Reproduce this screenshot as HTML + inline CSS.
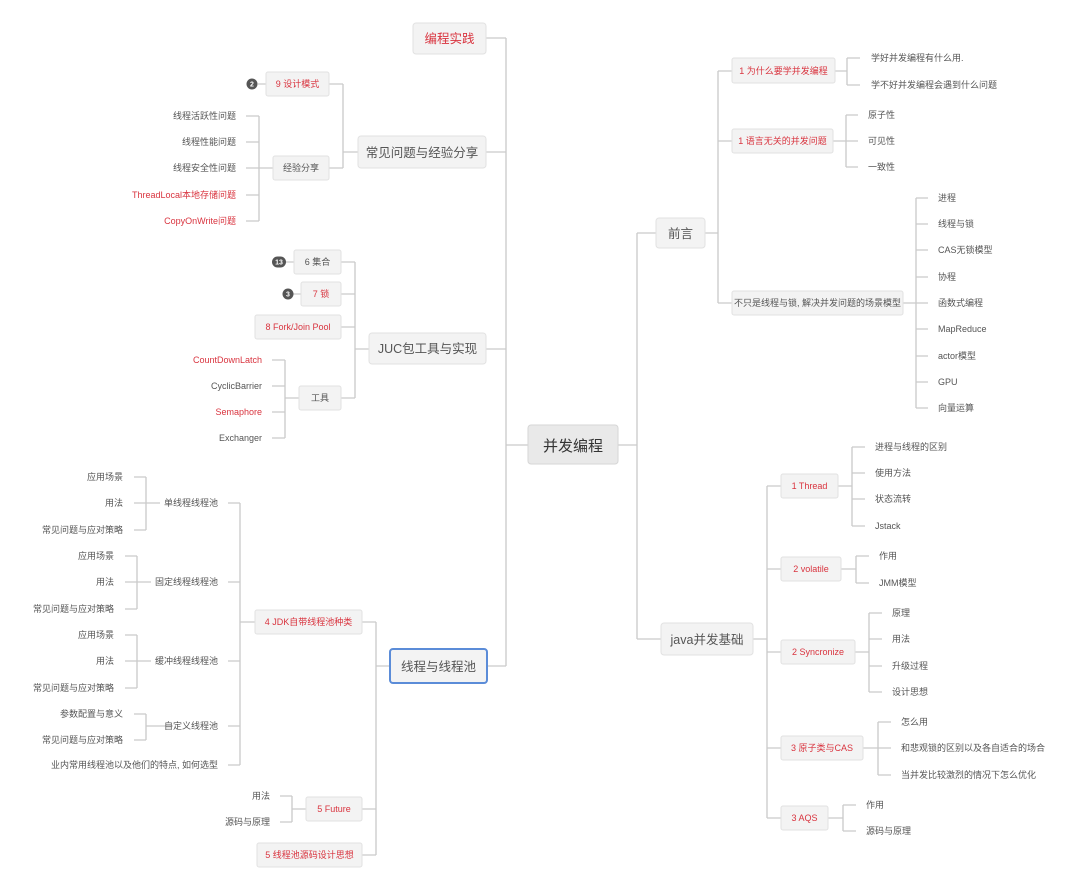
<!DOCTYPE html>
<html><head><meta charset="utf-8">
<style>
html,body{margin:0;padding:0;background:#fff;width:1080px;height:882px;overflow:hidden}
svg{display:block}
text{font-family:"Liberation Sans","Noto Sans CJK SC",sans-serif;fill:#555}
.r{fill:#d9343f}
.s{font-size:9px}
.m{font-size:10px}
.l{font-size:12.5px}
.b{fill:#f3f3f3;stroke:#e2e2e2;stroke-width:1}
.ln{fill:none;stroke:#cacaca;stroke-width:1.3}
.bd{fill:#555}
.bt{fill:#fff;font-size:7px;font-weight:bold}
</style></head><body>
<svg width="1080" height="882" viewBox="0 0 1080 882" xmlns="http://www.w3.org/2000/svg">
<g class="ln">
<path d="M528 445H506M506 38V666M486 38H506M486 152H506M486 349H506M487 666H506"/>
<path d="M618 445H637M637 233V639M637 233H656M637 639H661"/>
<path d="M705 233H718M718 71V303M718 71H732M718 141H732M718 303H732"/>
<path d="M835 71H847M847 58V85M847 58H860M847 85H860"/>
<path d="M833 141H846M846 115V167M846 115H858M846 141H858M846 167H858"/>
<path d="M903 303H916M916 198V408M916 198H928M916 224H928M916 250H928M916 277H928M916 303H928M916 329H928M916 356H928M916 382H928M916 408H928"/>
<path d="M753 639H767M767 486V818M767 486H781M767 569H781M767 652H781M767 748H781M767 818H781"/>
<path d="M838 486H852M852 447V526M852 447H865M852 473H865M852 499H865M852 526H865"/>
<path d="M841 569H856M856 556V583M856 556H869M856 583H869"/>
<path d="M855 652H869M869 613V692M869 613H882M869 639H882M869 666H882M869 692H882"/>
<path d="M863 748H878M878 722V775M878 722H891M878 748H891M878 775H891"/>
<path d="M828 818H843M843 805V831M843 805H856M843 831H856"/>
<path d="M358 152H343M343 84V168M343 84H329M343 168H329M258 84H266"/>
<path d="M273 168H259M259 116V221M259 116H246M259 142H246M259 168H246M259 195H246M259 221H246"/>
<path d="M369 349H355M355 262V398M355 262H341M355 294H341M355 327H341M355 398H341M286 262H294M292 294H301"/>
<path d="M299 398H285M285 360V438M285 360H272M285 386H272M285 412H272M285 438H272"/>
<path d="M390 666H376M376 622V855M376 622H362M376 809H362M376 855H362"/>
<path d="M255 622H240M240 503V765M240 503H228M240 582H228M240 661H228M240 726H228M240 765H228"/>
<path d="M160 503H146M146 477V530M146 477H134M146 503H134M146 530H134"/>
<path d="M151 582H137M137 556V609M137 556H125M137 582H125M137 609H125"/>
<path d="M151 661H137M137 635V688M137 635H125M137 661H125M137 688H125"/>
<path d="M173 726H146M146 714V740M146 714H134M146 740H134"/>
<path d="M306 809H292M292 796V822M292 796H280M292 822H280"/>
</g>

<!-- root -->
<rect x="528" y="425" width="90" height="39" rx="3" fill="#e9e9e9" stroke="#d6d6d6"/>
<text x="573" y="451" text-anchor="middle" style="font-size:15px;fill:#333">并发编程</text>

<!-- level1 left -->
<rect class="b" x="413" y="23" width="73" height="31" rx="3"/>
<text class="l r" x="449.5" y="43" text-anchor="middle">编程实践</text>
<rect class="b" x="358" y="136" width="128" height="32" rx="3"/>
<text class="l" x="422" y="157" text-anchor="middle">常见问题与经验分享</text>
<rect class="b" x="369" y="333" width="117" height="31" rx="3"/>
<text class="l" x="427.5" y="353" text-anchor="middle">JUC包工具与实现</text>
<rect x="390" y="649" width="97" height="34" rx="3" fill="#f3f3f3" stroke="#5b8cd8" stroke-width="2"/>
<text class="l" x="438.5" y="671" text-anchor="middle">线程与线程池</text>

<!-- level1 right -->
<rect class="b" x="656" y="218" width="49" height="30" rx="3"/>
<text class="l" x="680.5" y="238" text-anchor="middle">前言</text>
<rect class="b" x="661" y="623" width="92" height="32" rx="3"/>
<text class="l" x="707" y="644" text-anchor="middle">java并发基础</text>

<!-- 前言 children -->
<rect class="b" x="732" y="58" width="103" height="25" rx="2"/>
<text class="s r" x="783.5" y="74" text-anchor="middle">1 为什么要学并发编程</text>
<rect class="b" x="732" y="129" width="101" height="24" rx="2"/>
<text class="s r" x="782.5" y="144" text-anchor="middle">1 语言无关的并发问题</text>
<rect class="b" x="732" y="291" width="171" height="24" rx="2"/>
<text class="s" x="817.5" y="306" text-anchor="middle">不只是线程与锁, 解决并发问题的场景模型</text>
<g class="s">
<text x="871" y="61">学好并发编程有什么用.</text>
<text x="871" y="88">学不好并发编程会遇到什么问题</text>
<text x="868" y="118">原子性</text>
<text x="868" y="144">可见性</text>
<text x="868" y="170">一致性</text>
<text x="938" y="201">进程</text>
<text x="938" y="227">线程与锁</text>
<text x="938" y="253">CAS无锁模型</text>
<text x="938" y="280">协程</text>
<text x="938" y="306">函数式编程</text>
<text x="938" y="332">MapReduce</text>
<text x="938" y="359">actor模型</text>
<text x="938" y="385">GPU</text>
<text x="938" y="411">向量运算</text>
</g>

<!-- java children -->
<rect class="b" x="781" y="474" width="57" height="24" rx="2"/>
<text class="s r" x="809.5" y="489" text-anchor="middle">1 Thread</text>
<rect class="b" x="781" y="557" width="60" height="24" rx="2"/>
<text class="s r" x="811" y="572" text-anchor="middle">2 volatile</text>
<rect class="b" x="781" y="640" width="74" height="24" rx="2"/>
<text class="s r" x="818" y="655" text-anchor="middle">2 Syncronize</text>
<rect class="b" x="781" y="736" width="82" height="24" rx="2"/>
<text class="s r" x="822" y="751" text-anchor="middle">3 原子类与CAS</text>
<rect class="b" x="781" y="806" width="47" height="24" rx="2"/>
<text class="s r" x="804.5" y="821" text-anchor="middle">3 AQS</text>
<g class="s">
<text x="875" y="450">进程与线程的区别</text>
<text x="875" y="476">使用方法</text>
<text x="875" y="502">状态流转</text>
<text x="875" y="529">Jstack</text>
<text x="879" y="559">作用</text>
<text x="879" y="586">JMM模型</text>
<text x="892" y="616">原理</text>
<text x="892" y="642">用法</text>
<text x="892" y="669">升级过程</text>
<text x="892" y="695">设计思想</text>
<text x="901" y="725">怎么用</text>
<text x="901" y="751">和悲观锁的区别以及各自适合的场合</text>
<text x="901" y="778">当并发比较激烈的情况下怎么优化</text>
<text x="866" y="808">作用</text>
<text x="866" y="834">源码与原理</text>
</g>

<!-- 常见问题 children -->
<rect class="b" x="266" y="72" width="63" height="24" rx="2"/>
<text class="s r" x="297.5" y="87" text-anchor="middle">9 设计模式</text>
<circle class="bd" cx="252" cy="84" r="5.5"/>
<text class="bt" x="252" y="86.5" text-anchor="middle">2</text>
<rect class="b" x="273" y="156" width="56" height="24" rx="2"/>
<text class="s" x="301" y="171" text-anchor="middle">经验分享</text>
<g class="s" text-anchor="end">
<text x="236" y="119">线程活跃性问题</text>
<text x="236" y="145">线程性能问题</text>
<text x="236" y="171">线程安全性问题</text>
<text class="r" x="236" y="198">ThreadLocal本地存储问题</text>
<text class="r" x="236" y="224">CopyOnWrite问题</text>
</g>

<!-- JUC children -->
<rect class="b" x="294" y="250" width="47" height="24" rx="2"/>
<text class="s" x="317.5" y="265" text-anchor="middle">6 集合</text>
<rect class="bd" x="272" y="256.5" width="14" height="11" rx="5.5"/>
<text class="bt" x="279" y="264.5" text-anchor="middle">13</text>
<rect class="b" x="301" y="282" width="40" height="24" rx="2"/>
<text class="s r" x="321" y="297" text-anchor="middle">7 锁</text>
<circle class="bd" cx="288" cy="294" r="5.5"/>
<text class="bt" x="288" y="296.5" text-anchor="middle">3</text>
<rect class="b" x="255" y="315" width="86" height="24" rx="2"/>
<text class="s r" x="298" y="330" text-anchor="middle">8 Fork/Join Pool</text>
<rect class="b" x="299" y="386" width="42" height="24" rx="2"/>
<text class="s" x="320" y="401" text-anchor="middle">工具</text>
<g class="s" text-anchor="end">
<text class="r" x="262" y="363">CountDownLatch</text>
<text x="262" y="389">CyclicBarrier</text>
<text class="r" x="262" y="415">Semaphore</text>
<text x="262" y="441">Exchanger</text>
</g>

<!-- 线程池 children -->
<rect class="b" x="255" y="610" width="107" height="24" rx="2"/>
<text class="s r" x="308.5" y="625" text-anchor="middle">4 JDK自带线程池种类</text>
<rect class="b" x="306" y="797" width="56" height="24" rx="2"/>
<text class="s r" x="334" y="812" text-anchor="middle">5 Future</text>
<rect class="b" x="257" y="843" width="105" height="24" rx="2"/>
<text class="s r" x="309.5" y="858" text-anchor="middle">5 线程池源码设计思想</text>
<g class="s" text-anchor="end">
<text x="218" y="506">单线程线程池</text>
<text x="218" y="585">固定线程线程池</text>
<text x="218" y="664">缓冲线程线程池</text>
<text x="218" y="729">自定义线程池</text>
<text x="218" y="768">业内常用线程池以及他们的特点, 如何选型</text>
<text x="123" y="480">应用场景</text>
<text x="123" y="506">用法</text>
<text x="123" y="533">常见问题与应对策略</text>
<text x="114" y="559">应用场景</text>
<text x="114" y="585">用法</text>
<text x="114" y="612">常见问题与应对策略</text>
<text x="114" y="638">应用场景</text>
<text x="114" y="664">用法</text>
<text x="114" y="691">常见问题与应对策略</text>
<text x="123" y="717">参数配置与意义</text>
<text x="123" y="743">常见问题与应对策略</text>
<text x="270" y="799">用法</text>
<text x="270" y="825">源码与原理</text>
</g>
</svg>
</body></html>
